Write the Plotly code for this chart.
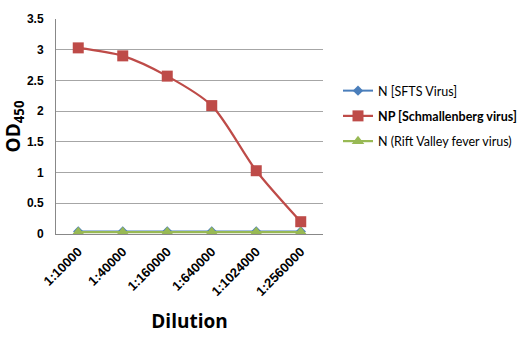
import plotly.graph_objects as go

dilutions = ["1:10000", "1:40000", "1:160000", "1:640000", "1:1024000", "1:2560000"]
sfts_n = [0.04, 0.04, 0.04, 0.04, 0.04, 0.04]
schmallenberg_np = [3.03, 2.90, 2.57, 2.09, 1.03, 0.20]
rvf_n = [0.03, 0.03, 0.03, 0.03, 0.03, 0.03]

fig = go.Figure()
fig.add_trace(go.Scatter(
    x=dilutions, y=sfts_n, name="N [SFTS Virus]", legendgroup="a",
    mode="lines+markers", line=dict(color="#4a7ebb", width=2, shape="spline"),
    marker=dict(symbol="diamond", size=8, color="#4a7ebb")))
fig.add_trace(go.Scatter(
    x=dilutions, y=schmallenberg_np, name="<b>NP [Schmallenberg virus]</b>", legendgroup="b",
    mode="lines+markers", line=dict(color="#be4b48", width=2.2, shape="spline", smoothing=0.8),
    marker=dict(symbol="square", size=11, color="#be4b48")))
fig.add_trace(go.Scatter(
    x=dilutions, y=rvf_n, name="N (Rift Valley fever virus)", legendgroup="c",
    mode="lines+markers", line=dict(color="#98b954", width=2.2, shape="spline"),
    marker=dict(symbol="triangle-up", size=11, color="#98b954")))

fig.update_layout(
    width=517, height=339,
    margin=dict(l=56, r=194, t=19, b=105, autoexpand=False),
    paper_bgcolor="white", plot_bgcolor="white",
    font=dict(family="Open Sans, Liberation Sans, sans-serif", color="#000000"),
    showlegend=True,
    legend=dict(
        xref="container", yref="container",
        x=338 / 517, y=1 - 76 / 339, xanchor="left", yanchor="top",
        font=dict(size=12.5, family="Lato, Open Sans, sans-serif"),
        traceorder="grouped", tracegroupgap=6,
        itemwidth=30, bgcolor="rgba(0,0,0,0)"),
    xaxis=dict(
        type="category", range=[-0.5, 5.5], tickangle=-45,
        tickfont=dict(size=13, family="Liberation Sans, Arial, sans-serif", weight="bold"),
        showline=True, linecolor="#888888", linewidth=1,
        showgrid=False, ticks="", ticklabelstandoff=4,
        title=dict(text="<b>Dilution</b>", font=dict(size=19), standoff=16)),
    yaxis=dict(
        range=[0, 3.5], dtick=0.5, tickformat="~g",
        tickfont=dict(size=12, family="Liberation Sans, Arial, sans-serif", weight="bold"),
        showline=True, linecolor="#888888", linewidth=1,
        showgrid=True, gridcolor="#a6a6a6", gridwidth=1,
        zeroline=False, ticks="", ticklabelstandoff=9,
        title=dict(text="<b>OD<sub>450</sub></b>", font=dict(size=19), standoff=6)),
)

fig.write_html("out.html")
